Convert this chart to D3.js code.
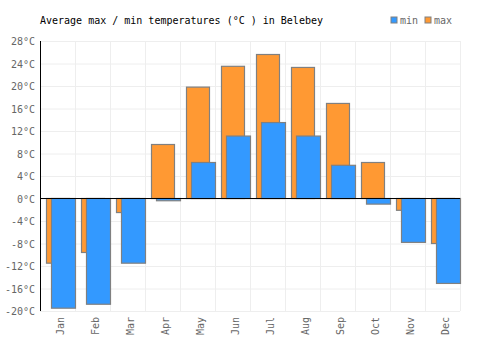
<!DOCTYPE html>
<html>
<head>
<meta charset="utf-8">
<script src="https://cdn.jsdelivr.net/npm/d3@7"></script>
<style>
  body { margin: 0; background: #fff; }
  text { font-family: "DejaVu Sans Mono", monospace; }
</style>
</head>
<body>
<div id="chart"></div>
<script>
// data
const months = ["Jan", "Feb", "Mar", "Apr", "May", "Jun", "Jul", "Aug", "Sep", "Oct", "Nov", "Dec"];
const maxTemps = [-11.5, -9.6, -2.5, 9.6, 19.8, 23.5, 25.6, 23.3, 16.9, 6.4, -2.1, -8.0];
const minTemps = [-19.5, -18.8, -11.5, -0.4, 6.4, 11.1, 13.5, 11.1, 5.9, -1.0, -7.8, -15.1];
const yTicks = [28, 24, 20, 16, 12, 8, 4, 0, -4, -8, -12, -16, -20];

const width = 500, height = 350;
const plotLeft = 40, plotRight = 460, plotTop = 41, plotBottom = 311;

let svg = d3.select("#chart")
    .append("svg")
    .attr("width", width)
    .attr("height", height);

let x = d3.scaleBand()
    .domain(months)
    .range([plotLeft, plotRight]);

let y = d3.scaleLinear()
    .domain([-20, 28])
    .range([plotBottom, plotTop]);

// grid
svg.append("g")
    .selectAll("line")
    .data(yTicks)
    .enter()
    .append("line")
    .attr("x1", plotLeft).attr("x2", plotRight)
    .attr("y1", d => y(d) + 0.5).attr("y2", d => y(d) + 0.5)
    .attr("stroke", "#eeeeee");

svg.append("g")
    .selectAll("line")
    .data(months)
    .enter()
    .append("line")
    .attr("x1", d => x(d) + x.bandwidth() + 0.5)
    .attr("x2", d => x(d) + x.bandwidth() + 0.5)
    .attr("y1", plotTop).attr("y2", plotBottom)
    .attr("stroke", "#eeeeee");

// max bars (behind)
svg.append("g")
    .selectAll("rect")
    .data(maxTemps)
    .enter()
    .append("rect")
    .attr("x", (d, i) => x(months[i]) + 6.5)
    .attr("width", 23)
    .attr("y", d => Math.min(y(d), y(0)))
    .attr("height", d => Math.abs(y(d) - y(0)))
    .attr("fill", "#ff9933")
    .attr("stroke", "#808080")
    .attr("stroke-width", 1.2);

// min bars (front)
svg.append("g")
    .selectAll("rect")
    .data(minTemps)
    .enter()
    .append("rect")
    .attr("x", (d, i) => x(months[i]) + 11.5)
    .attr("width", 24)
    .attr("y", d => Math.min(y(d), y(0)))
    .attr("height", d => Math.abs(y(d) - y(0)))
    .attr("fill", "#3399ff")
    .attr("stroke", "#808080")
    .attr("stroke-width", 1.2);

// zero line and y axis line
svg.append("line")
    .attr("x1", plotLeft).attr("x2", plotRight)
    .attr("y1", y(0)).attr("y2", y(0))
    .attr("stroke", "#000");
svg.append("line")
    .attr("x1", plotLeft + 0.5).attr("x2", plotLeft + 0.5)
    .attr("y1", plotTop).attr("y2", plotBottom)
    .attr("stroke", "#000");

// y labels
svg.append("g")
    .selectAll("text")
    .data(yTicks)
    .enter()
    .append("text")
    .attr("x", 35)
    .attr("y", d => y(d) + 4)
    .attr("text-anchor", "end")
    .attr("font-size", 10)
    .attr("fill", "#666")
    .text(d => d + "°C");

// x labels
svg.append("g")
    .selectAll("text")
    .data(months)
    .enter()
    .append("text")
    .attr("transform", d => "translate(" + (x(d) + x.bandwidth() / 2 + 6) + "," + (plotBottom + 6) + ")rotate(-90)")
    .attr("text-anchor", "end")
    .attr("font-size", 10)
    .attr("fill", "#666")
    .text(d => d);

// title
svg.append("text")
    .attr("x", 40)
    .attr("y", 24)
    .attr("font-size", 10)
    .attr("fill", "#000")
    .text("Average max / min temperatures (°C ) in Belebey");

// legend
const legend = [["min", "#3399ff", 391], ["max", "#ff9933", 425]];
svg.append("g")
    .selectAll("g")
    .data(legend)
    .enter()
    .append("g")
    .each(function(d) {
        let g = d3.select(this);
        g.append("rect")
            .attr("x", d[2]).attr("y", 17)
            .attr("width", 6).attr("height", 6)
            .attr("fill", d[1])
            .attr("stroke", "#808080");
        g.append("text")
            .attr("x", d[2] + 9).attr("y", 24)
            .attr("font-size", 10)
            .attr("fill", "#666")
            .text(d[0]);
    });
</script>
</body>
</html>
